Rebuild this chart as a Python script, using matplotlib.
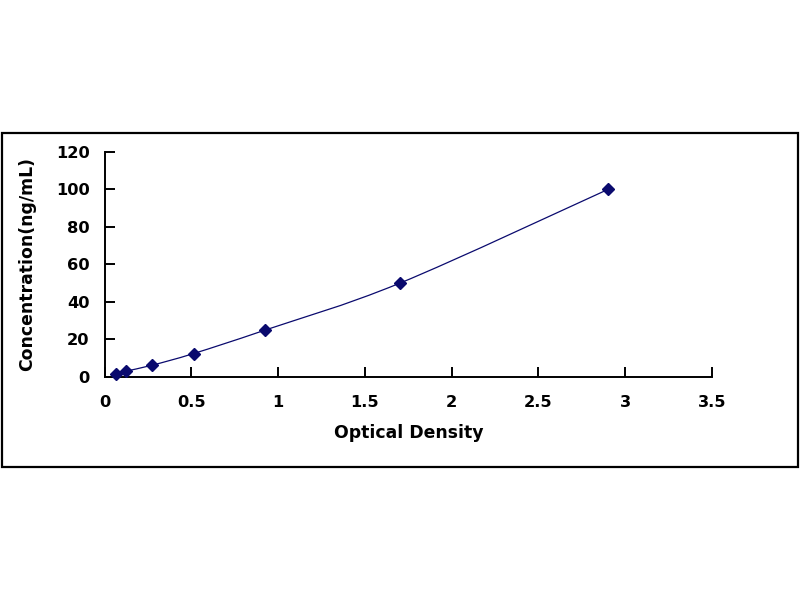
import numpy as np
import matplotlib
matplotlib.use("Agg")
from matplotlib import pyplot as plt
from matplotlib.path import Path
from matplotlib.patches import PathPatch, Rectangle

# standard curve readings
od = [0.064, 0.123, 0.272, 0.512, 0.924, 1.70, 2.90]
conc = [1.56, 3.12, 6.25, 12.5, 25, 50, 100]
x_ticks = [0, 0.5, 1, 1.5, 2, 2.5, 3, 3.5]
x_tick_labels = ["0", "0.5", "1", "1.5", "2", "2.5", "3", "3.5"]
y_ticks = [0, 20, 40, 60, 80, 100, 120]

navy = "#0a0a6e"

def smooth_path(xs, ys):
    # Excel-like smoothed line: bezier segments with catmull-rom control points
    pts = np.column_stack([xs, ys]).astype(float)
    n = len(pts)
    verts = [pts[0]]
    codes = [Path.MOVETO]
    for i in range(n - 1):
        p_prev = pts[i - 1] if i > 0 else pts[i]
        p_next = pts[i + 2] if i + 2 < n else pts[i + 1]
        c1 = pts[i] + (pts[i + 1] - p_prev) / 6
        c2 = pts[i + 1] - (p_next - pts[i]) / 6
        verts += [c1, c2, pts[i + 1]]
        codes += [Path.CURVE4] * 3
    return Path(verts, codes)

plt.rcParams['font.family'] = ['DejaVu Sans']
fig = plt.figure(figsize=(8, 6), dpi=100)

# outer frame
fig.patches.append(Rectangle((0.0025, 0.2217), 0.995, 0.5566, transform=fig.transFigure,
                             fill=False, edgecolor="black", linewidth=1.6))

ax = fig.add_axes([0.1309, 0.3717, 0.759, 0.375])
ax.add_patch(PathPatch(smooth_path(od, conc), transform=ax.transData,
                       fill=False, edgecolor=navy, linewidth=0.9))
ax.plot(od, conc, linestyle="none", marker="D", markersize=6.3,
        color=navy, clip_on=False, zorder=3)

ax.set_xlim(0, 3.5)
ax.set_ylim(0, 120)
ax.set_xticks(x_ticks)
ax.set_xticklabels(x_tick_labels)
ax.set_yticks(y_ticks)
for side in ["top", "right"]:
    ax.spines[side].set_visible(False)
for side in ["left", "bottom"]:
    ax.spines[side].set_linewidth(1.4)
ax.tick_params(direction="in", length=7, width=1.4, labelsize=11.7)
ax.tick_params(axis="x", pad=13)
ax.tick_params(axis="y", pad=11)
for lab in ax.get_xticklabels() + ax.get_yticklabels():
    lab.set_fontweight("bold")

ax.set_xlabel("Optical Density", fontsize=12.4, fontweight="bold", labelpad=10)
ax.set_ylabel("Concentration(ng/mL)", fontsize=12.4, fontweight="bold", labelpad=14)

plt.savefig("out.png", dpi=100)
